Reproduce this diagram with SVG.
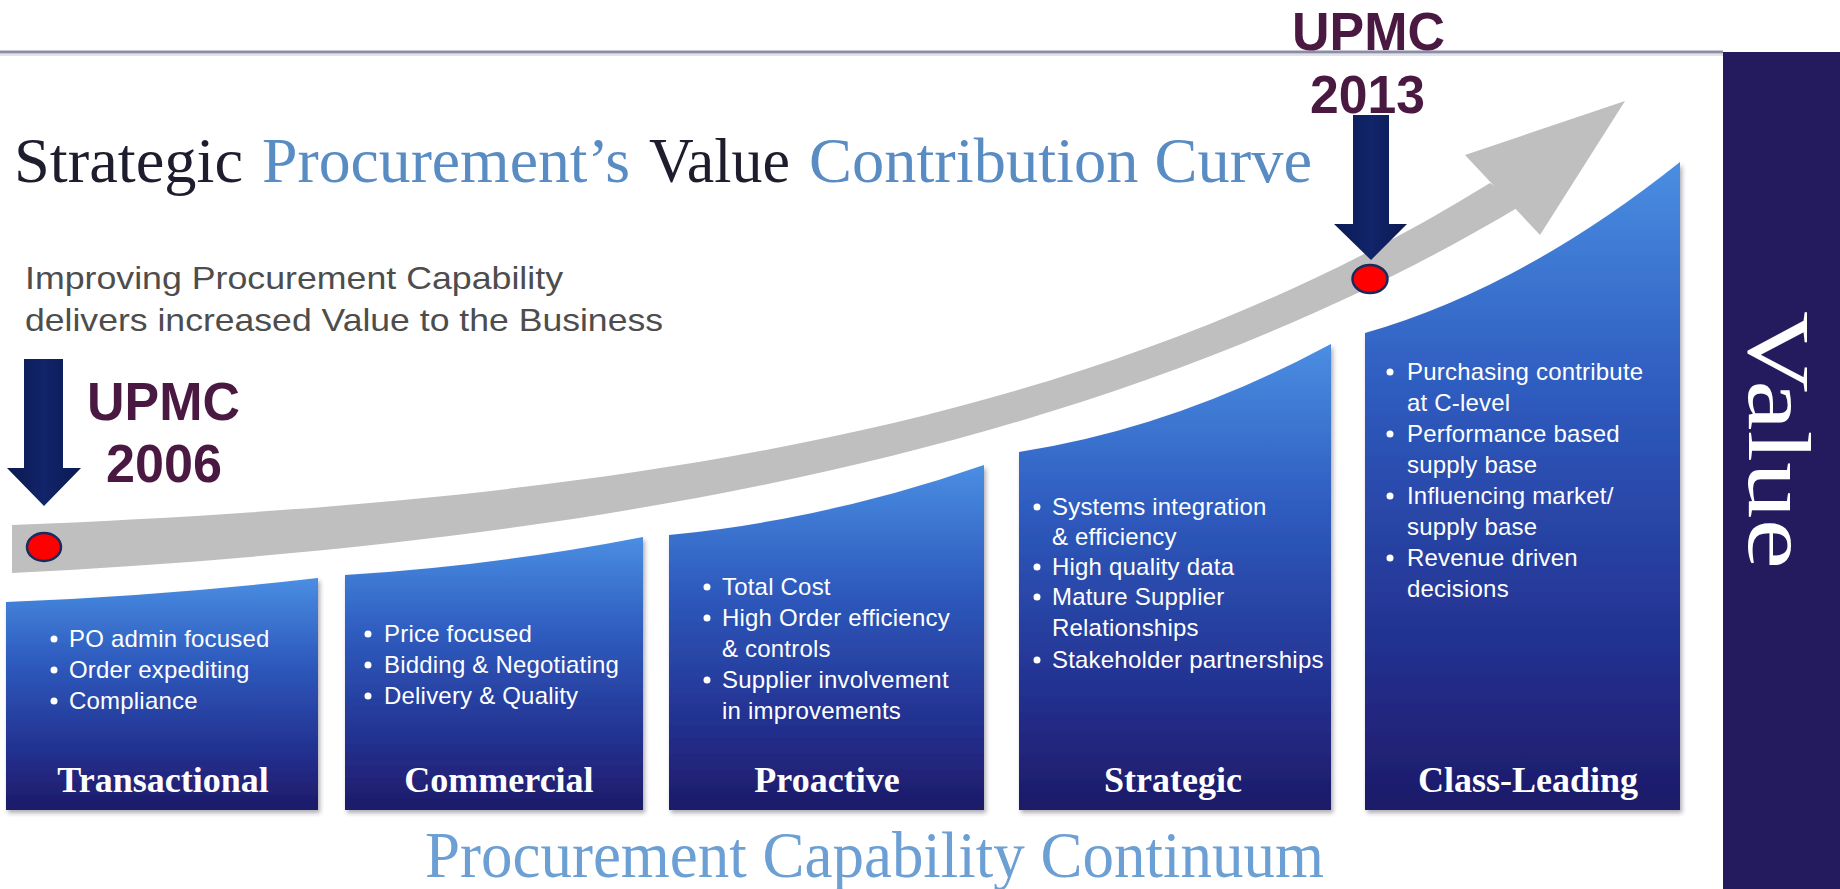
<svg xmlns="http://www.w3.org/2000/svg" width="1840" height="889" viewBox="0 0 1840 889">
  <defs>
    <linearGradient id="barFill" x1="0" y1="0" x2="0" y2="1">
      <stop offset="0" stop-color="#4a8ee2"/>
      <stop offset="0.35" stop-color="#2e5cbf"/>
      <stop offset="0.75" stop-color="#23308f"/>
      <stop offset="1" stop-color="#1e1a68"/>
    </linearGradient>
    <linearGradient id="arrowFill" x1="0" y1="0" x2="1" y2="0">
      <stop offset="0" stop-color="#0a1a52"/>
      <stop offset="0.5" stop-color="#12246a"/>
      <stop offset="1" stop-color="#0a1a52"/>
    </linearGradient>
    <filter id="barShadow" x="-5%" y="-5%" width="115%" height="115%">
      <feDropShadow dx="2" dy="3" stdDeviation="2" flood-color="#333344" flood-opacity="0.4"/>
    </filter>
    <style>
      .title { font-family: "Liberation Serif", "Times New Roman", serif; font-size: 63px; }
      .dark { fill: #1d1d2d; }
      .blue { fill: #5a8cc4; }
      .sub { font-family: "Liberation Sans", Arial, sans-serif; font-size: 32px; fill: #4d4d4d; }
      .bar { fill: url(#barFill); filter: url(#barShadow); }
      .item { font-family: "Liberation Sans", Arial, sans-serif; font-size: 24px; letter-spacing: 0.2px; fill: #ffffff; }
      .dot { fill: #ffffff; }
      .label { font-family: "Liberation Serif", "Times New Roman", serif; font-weight: bold; font-size: 36px; fill: #ffffff; text-anchor: middle; }
      .upmc { font-family: "Liberation Sans", Arial, sans-serif; font-weight: bold; font-size: 54px; fill: #4a1942; }
      .down { fill: url(#arrowFill); }
      .marker { fill: #ff0000; stroke: #1a2a5e; stroke-width: 2.5; }
      .curve { fill: #bfbfbf; }
    </style>
  </defs>

  <rect width="1840" height="889" fill="#ffffff"/>

  <!-- top rule -->
  <line x1="0" y1="52" x2="1723" y2="52" stroke="#8c8ca6" stroke-width="3"/>
  <line x1="0" y1="55" x2="1723" y2="55" stroke="#e2e2ea" stroke-width="2"/>

  <!-- heading -->
  <g id="title">
    <text class="title dark" x="14" y="182" textLength="229" lengthAdjust="spacingAndGlyphs">Strategic</text>
    <text class="title blue" x="262" y="182" textLength="368" lengthAdjust="spacingAndGlyphs">Procurement’s</text>
    <text class="title dark" x="649" y="182" textLength="141" lengthAdjust="spacingAndGlyphs">Value</text>
    <text class="title blue" x="809" y="182" textLength="503" lengthAdjust="spacingAndGlyphs">Contribution Curve</text>
  </g>

  <g id="subtitle">
    <text class="sub" x="25" y="289" textLength="538" lengthAdjust="spacingAndGlyphs">Improving Procurement Capability</text>
    <text class="sub" x="25" y="331" textLength="638" lengthAdjust="spacingAndGlyphs">delivers increased Value to the Business</text>
  </g>

  <!-- growth curve and year markers -->
  <g id="connectors">
    <path class="curve" d="M12,525 C612,501 1090,431 1490,183 L1522,205 C1122,445 612,543 12,573 Z"/>
    <polygon class="curve" points="1465,155 1625,101 1540,235"/>
    <polygon class="down" points="24,359 63,359 63,468 81,468 44,506 7,468 24,468"/>
    <polygon class="down" points="1353,115 1389,115 1389,224 1407,224 1371,260 1334,224 1353,224"/>
  </g>

  <g id="upmc-2006">
    <ellipse class="marker" cx="44" cy="547" rx="17" ry="14"/>
    <text class="upmc" x="87" y="420" textLength="153" lengthAdjust="spacingAndGlyphs">UPMC</text>
    <text class="upmc" x="106" y="482" textLength="116" lengthAdjust="spacingAndGlyphs">2006</text>
  </g>

  <g id="upmc-2013">
    <ellipse class="marker" cx="1370" cy="279" rx="17.5" ry="14"/>
    <text class="upmc" x="1292" y="50" textLength="153" lengthAdjust="spacingAndGlyphs">UPMC</text>
    <text class="upmc" x="1310" y="113" textLength="115" lengthAdjust="spacingAndGlyphs">2013</text>
  </g>

  <!-- capability stages -->
  <g id="transactional">
    <path class="bar" d="M6,810 L6,602 Q162,596 318,578 L318,810 Z"/>
    <circle class="dot" cx="54" cy="639" r="3.5"/>
    <circle class="dot" cx="54" cy="670" r="3.5"/>
    <circle class="dot" cx="54" cy="701" r="3.5"/>
    <text class="item" x="69" y="647">PO admin focused</text>
    <text class="item" x="69" y="678">Order expediting</text>
    <text class="item" x="69" y="709">Compliance</text>
    <text class="label" x="163" y="792">Transactional</text>
  </g>

  <g id="commercial">
    <path class="bar" d="M345,810 L345,575 Q494,566 643,537 L643,810 Z"/>
    <circle class="dot" cx="368" cy="634" r="3.5"/>
    <circle class="dot" cx="368" cy="665" r="3.5"/>
    <circle class="dot" cx="368" cy="696" r="3.5"/>
    <text class="item" x="384" y="642">Price focused</text>
    <text class="item" x="384" y="673">Bidding &amp; Negotiating</text>
    <text class="item" x="384" y="704">Delivery &amp; Quality</text>
    <text class="label" x="499" y="792">Commercial</text>
  </g>

  <g id="proactive">
    <path class="bar" d="M669,810 L669,535 Q826,520 984,465 L984,810 Z"/>
    <circle class="dot" cx="707" cy="587" r="3.5"/>
    <circle class="dot" cx="707" cy="618" r="3.5"/>
    <circle class="dot" cx="707" cy="680" r="3.5"/>
    <text class="item" x="722" y="595">Total Cost</text>
    <text class="item" x="722" y="626">High Order efficiency</text>
    <text class="item" x="722" y="657">&amp; controls</text>
    <text class="item" x="722" y="688">Supplier involvement</text>
    <text class="item" x="722" y="719">in improvements</text>
    <text class="label" x="827" y="792">Proactive</text>
  </g>

  <g id="strategic">
    <path class="bar" d="M1019,810 L1019,452 Q1175,428 1331,344 L1331,810 Z"/>
    <circle class="dot" cx="1037" cy="507" r="3.5"/>
    <circle class="dot" cx="1037" cy="567" r="3.5"/>
    <circle class="dot" cx="1037" cy="597" r="3.5"/>
    <circle class="dot" cx="1037" cy="660" r="3.5"/>
    <text class="item" x="1052" y="515">Systems integration</text>
    <text class="item" x="1052" y="545">&amp; efficiency</text>
    <text class="item" x="1052" y="575">High quality data</text>
    <text class="item" x="1052" y="605">Mature Supplier</text>
    <text class="item" x="1052" y="636">Relationships</text>
    <text class="item" x="1052" y="668">Stakeholder partnerships</text>
    <text class="label" x="1173" y="792">Strategic</text>
  </g>

  <g id="class-leading">
    <path class="bar" d="M1365,810 L1365,333 Q1522,288 1680,162 L1680,810 Z"/>
    <circle class="dot" cx="1390" cy="372" r="3.5"/>
    <circle class="dot" cx="1390" cy="434" r="3.5"/>
    <circle class="dot" cx="1390" cy="496" r="3.5"/>
    <circle class="dot" cx="1390" cy="558" r="3.5"/>
    <text class="item" x="1407" y="380">Purchasing contribute</text>
    <text class="item" x="1407" y="411">at C-level</text>
    <text class="item" x="1407" y="442">Performance based</text>
    <text class="item" x="1407" y="473">supply base</text>
    <text class="item" x="1407" y="504">Influencing market/</text>
    <text class="item" x="1407" y="535">supply base</text>
    <text class="item" x="1407" y="566">Revenue driven</text>
    <text class="item" x="1407" y="597">decisions</text>
    <text class="label" x="1528" y="792">Class-Leading</text>
  </g>

  <g id="axis-x">
    <text x="425" y="877" textLength="899" lengthAdjust="spacingAndGlyphs" font-family="Liberation Serif, Times New Roman, serif" font-size="66" fill="#6c9fd3">Procurement Capability Continuum</text>
  </g>

  <g id="axis-y">
    <rect x="1723" y="52" width="117" height="837" fill="#241b5f"/>
    <text transform="translate(1749,311) rotate(90)" textLength="258" lengthAdjust="spacingAndGlyphs" font-family="Liberation Serif, Times New Roman, serif" font-size="88" fill="#ffffff">Value</text>
  </g>
</svg>
